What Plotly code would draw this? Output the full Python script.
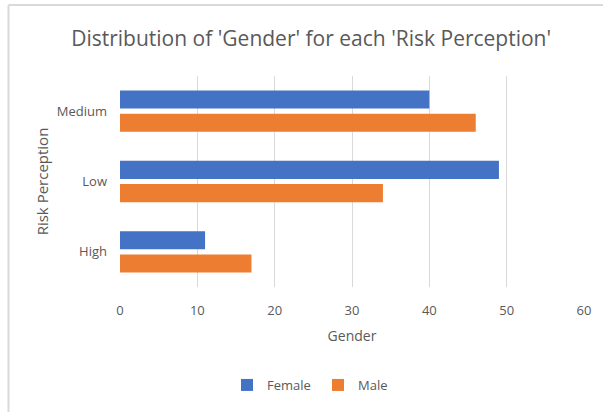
import plotly.graph_objects as go

# Counts of respondents by risk perception level and gender
risk_levels = ["High", "Low", "Medium"]
female_counts = [11, 49, 40]
male_counts = [17, 34, 46]
x_ticks = [0, 10, 20, 30, 40, 50, 60]

W, H = 603, 412
M_L, M_R, M_T, M_B = 120, 17, 76, 125
TEXT = "#595959"
FONT = "Open Sans"

fig = go.Figure()
fig.add_trace(go.Bar(
    y=risk_levels, x=male_counts, name="Male", orientation="h",
    marker=dict(color="#ED7D31", line=dict(width=0)),
))
fig.add_trace(go.Bar(
    y=risk_levels, x=female_counts, name="Female", orientation="h",
    marker=dict(color="#4472C4", line=dict(width=0)),
))

# light frame around the chart box (top and left edges)
pw = W - M_L - M_R
ph = H - M_T - M_B
def px_x(p):
    return (p - M_L) / pw
def px_y(p):
    return 1 - (p - M_T) / ph

fig.add_shape(type="line", xref="paper", yref="paper",
              x0=px_x(8), x1=px_x(W + 5), y0=px_y(5), y1=px_y(5),
              line=dict(color="#D9D9D9", width=2))
fig.add_shape(type="line", xref="paper", yref="paper",
              x0=px_x(8), x1=px_x(8), y0=px_y(5), y1=px_y(H + 5),
              line=dict(color="#D9D9D9", width=2))

fig.update_layout(
    width=W, height=H,
    margin=dict(l=M_L, r=M_R, t=M_T, b=M_B),
    paper_bgcolor="white", plot_bgcolor="white",
    font=dict(family=FONT, color=TEXT, size=12),
    barmode="group", bargap=0.34, bargroupgap=0.22,
    title=dict(text="Distribution of 'Gender' for each 'Risk Perception'",
               x=0.516, xanchor="center", xref="container",
               y=1 - 39 / H, yanchor="middle", yref="container",
               font=dict(family=FONT, size=21, color=TEXT)),
    legend=dict(orientation="h", traceorder="reversed",
                x=318 / W, xanchor="center", xref="container",
                y=1 - 385 / H, yanchor="middle", yref="container",
                font=dict(size=13, color=TEXT), itemwidth=30,
                entrywidth=46, entrywidthmode="pixels"),
    showlegend=True,
)
fig.update_xaxes(
    range=[0, 60], tickvals=x_ticks, showgrid=True, gridcolor="#D9D9D9",
    gridwidth=1, zeroline=False, showline=False, ticks="",
    ticklabelstandoff=14, tickfont=dict(size=13, color=TEXT),
    title=dict(text="Gender", standoff=13, font=dict(size=14, color=TEXT)),
    fixedrange=True,
)
fig.update_yaxes(
    categoryorder="array", categoryarray=risk_levels,
    showgrid=False, zeroline=False, showline=False, ticks="",
    ticklabelstandoff=12, tickfont=dict(size=13, color=TEXT),
    title=dict(text="Risk Perception", standoff=4, font=dict(size=15, color=TEXT)),
    fixedrange=True,
)

fig.write_html("out.html")
